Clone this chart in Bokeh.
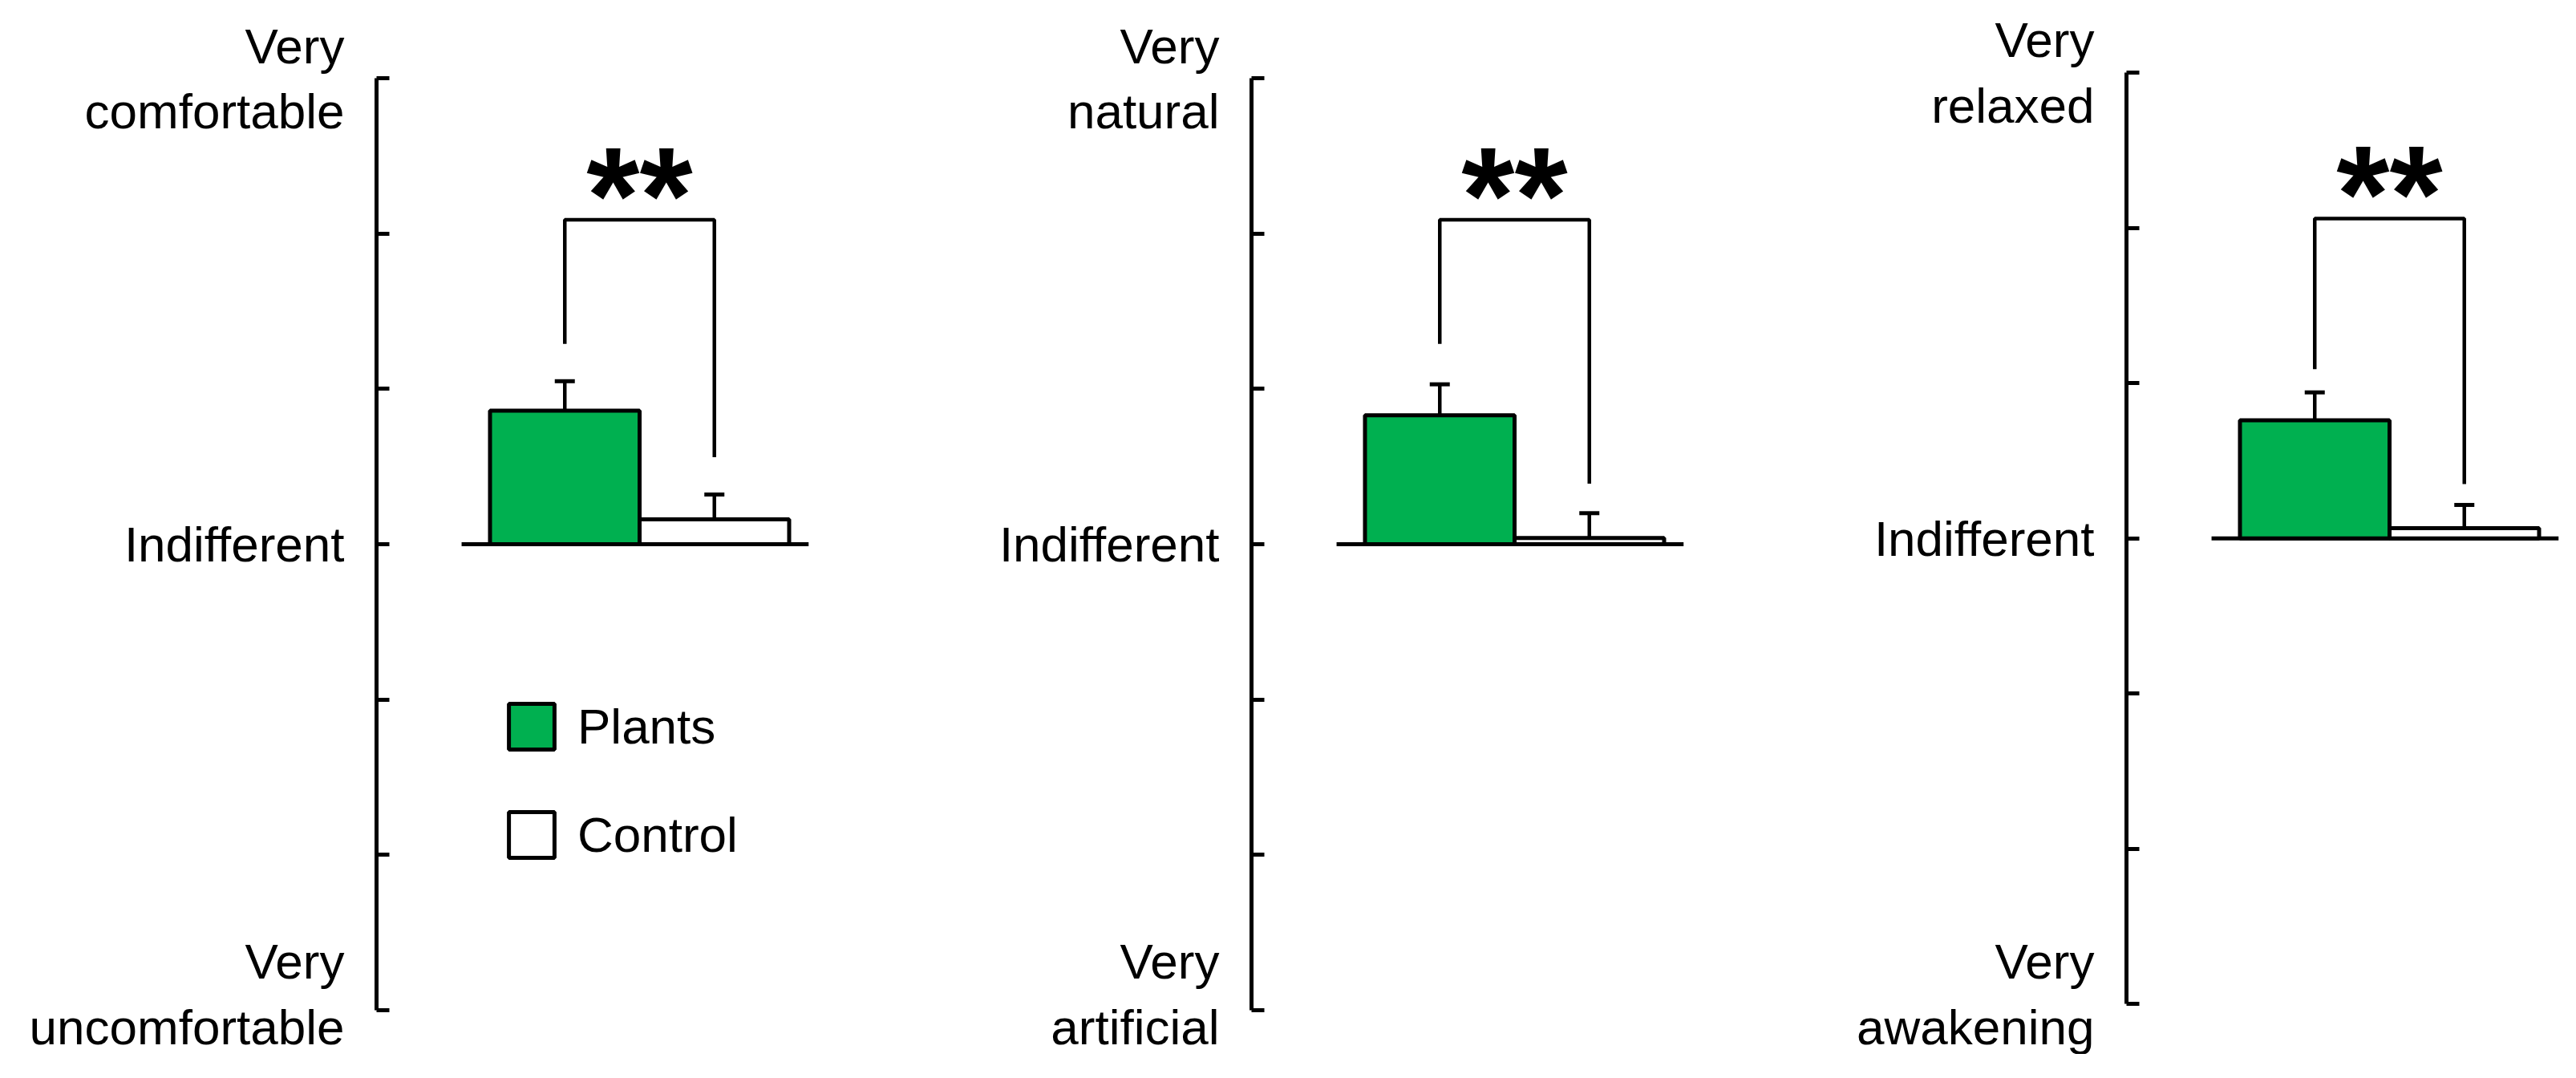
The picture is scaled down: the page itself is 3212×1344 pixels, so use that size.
from bokeh.plotting import figure
from bokeh.layouts import row
from bokeh.models import (Range1d, FixedTicker, Whisker, TeeHead, ColumnDataSource,
                          Legend, LegendItem)
from bokeh.core.properties import value
from bokeh.embed import file_html
from bokeh.resources import INLINE

# ---------------- data ----------------
groups = ["Plants", "Control"]
top_labels = ["Very\ncomfortable", "Very\nnatural", "Very\nrelaxed"]
bottom_labels = ["Very\nuncomfortable", "Very\nartificial", "Very\nawakening"]
mid_label = "Indifferent"
scale_ticks = [-3, -2, -1, 0, 1, 2, 3]

plants_mean = [0.86, 0.83, 0.76]
plants_err = [0.19, 0.20, 0.18]
control_mean = [0.16, 0.04, 0.065]
control_err = [0.16, 0.16, 0.15]

bracket_top = [2.09, 2.09, 2.06]
bracket_left_end = [1.29, 1.29, 1.09]
bracket_right_end = [0.56, 0.39, 0.35]
sig_marks = ["**", "**", "**"]

# ---------------- style ----------------
GREEN = "#00B050"
FONT = "Liberation Sans"
LW = 5
FRAME_W = 544
UNIT_PX = 186.5
X0 = -0.2587
border_left = [469, 547, 547]
y_shift = [0.0, 0.0, -0.038]

x_pos = [i + 1 for i in range(len(groups))]


def panel(i, show_legend):
    p = figure(output_backend="svg", toolbar_location=None,
               frame_width=FRAME_W, frame_height=1200,
               x_range=Range1d(X0, X0 + FRAME_W / UNIT_PX),
               y_range=Range1d(-3.1 + y_shift[i], 3.1 + y_shift[i]),
               x_axis_location=None, y_axis_location="left",
               min_border_left=border_left[i], min_border_right=0,
               min_border_top=78, min_border_bottom=36,
               outline_line_color=None, background_fill_color="white",
               border_fill_color="white")
    p.grid.visible = False

    ax = p.yaxis[0]
    ax.ticker = FixedTicker(ticks=scale_ticks)
    ax.bounds = (scale_ticks[0], scale_ticks[-1])
    overrides = {t: "" for t in scale_ticks}
    overrides[scale_ticks[-1]] = top_labels[i]
    overrides[0] = mid_label
    overrides[scale_ticks[0]] = bottom_labels[i]
    ax.major_label_overrides = overrides
    ax.axis_line_width = LW
    ax.axis_line_color = "black"
    ax.major_tick_line_width = LW
    ax.major_tick_line_color = "black"
    ax.major_tick_in = 16
    ax.major_tick_out = 0
    ax.minor_tick_line_color = None
    ax.major_label_standoff = 40
    ax.major_label_text_font = FONT
    ax.major_label_text_font_size = "62px"
    ax.major_label_text_color = "black"
    ax.major_label_text_align = "right"
    ax.major_label_text_line_height = 1.18

    # baseline at "Indifferent"
    p.segment(x0=[x_pos[0] - 0.69], x1=[x_pos[-1] + 0.63], y0=[0], y1=[0],
              line_color="black", line_width=LW)

    r_p = p.vbar(x=[x_pos[0]], top=[plants_mean[i]], bottom=0, width=1.0,
                 fill_color=GREEN, line_color="black", line_width=LW)
    r_c = p.vbar(x=[x_pos[1]], top=[control_mean[i]], bottom=0, width=1.0,
                 fill_color="white", line_color="black", line_width=LW)

    src = ColumnDataSource(dict(
        base=x_pos,
        lower=[plants_mean[i], control_mean[i]],
        upper=[plants_mean[i] + plants_err[i], control_mean[i] + control_err[i]]))
    w = Whisker(source=src, base="base", lower="lower", upper="upper",
                dimension="height", line_width=LW - 0.5, line_color="black",
                upper_head=TeeHead(size=25, line_width=LW, line_color="black"),
                lower_head=None)
    p.add_layout(w)

    # significance bracket
    p.multi_line(xs=[[x_pos[0], x_pos[0], x_pos[1], x_pos[1]]],
                 ys=[[bracket_left_end[i], bracket_top[i], bracket_top[i], bracket_right_end[i]]],
                 line_color="black", line_width=4.5)
    p.text(x=[(x_pos[0] + x_pos[1]) / 2], y=[bracket_top[i]], text=[sig_marks[i]],
           text_font=value(FONT), text_font_style="bold", text_font_size="170px",
           text_align="center", text_baseline="alphabetic", y_offset=-30,
           text_color="black")

    if show_legend:
        legend = Legend(items=[LegendItem(label=groups[0], renderers=[r_p]),
                               LegendItem(label=groups[1], renderers=[r_c])],
                        location=(158, 202), glyph_width=71, glyph_height=71,
                        label_standoff=22, spacing=64, padding=0, margin=0,
                        border_line_color=None, background_fill_alpha=0,
                        label_text_font=FONT, label_text_font_size="62px",
                        label_height=71, label_text_color="black")
        p.add_layout(legend)
    return p


figs = [panel(i, i == 0) for i in range(3)]
layout = row(*figs)

open("out.html", "w").write(file_html(layout, INLINE))
